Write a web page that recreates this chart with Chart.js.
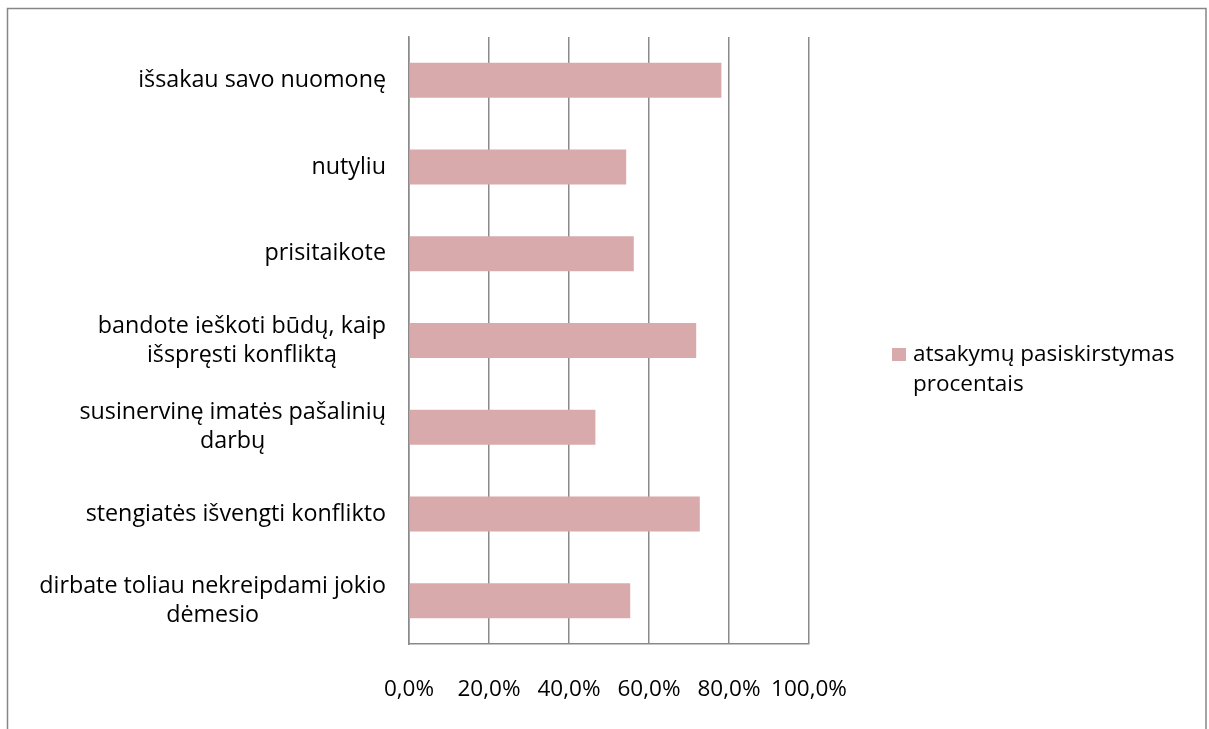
<!DOCTYPE html>
<html>
<head>
<meta charset="utf-8">
<script src="https://cdn.jsdelivr.net/npm/chart.js@4/dist/chart.umd.min.js"></script>
<style>
  html, body { margin: 0; padding: 0; background: #fff; }
  #wrap { width: 1209px; height: 729px; position: relative; }
</style>
</head>
<body>
<div id="wrap"><canvas id="c" width="1209" height="729"></canvas></div>
<script>
// ---- data ----
const categories = [
  ["išsakau savo nuomonę"],
  ["nutyliu"],
  ["prisitaikote"],
  ["bandote ieškoti būdų, kaip", "išspręsti konfliktą"],
  ["susinervinę imatės pašalinių", "darbų"],
  ["stengiatės išvengti konflikto"],
  ["dirbate toliau nekreipdami jokio", "dėmesio"]
];
const seriesName = "atsakymų pasiskirstymas procentais";
const seriesLegendLines = ["atsakymų pasiskirstymas", "procentais"];
const values = [78.1, 54.3, 56.2, 71.8, 46.6, 72.7, 55.3];
const tickValues = [0, 20, 40, 60, 80, 100];

const FONT = "'Open Sans', 'Liberation Sans', sans-serif";
const FSIZE = 22.5;
const YSIZE = 23.3;
const BAR_COLOR = '#D9AAAB';
const GRID_COLOR = '#8a8a8a';

const frame = {
  id: 'frame',
  beforeDraw(chart) {
    const ctx = chart.ctx;
    ctx.save();
    ctx.fillStyle = '#fff';
    ctx.fillRect(0, 0, chart.width, chart.height);
    ctx.strokeStyle = '#868686';
    ctx.lineWidth = 1.5;
    ctx.strokeRect(7.5, 8.5, 1198.5, 740);
    ctx.restore();
  }
};

const yLabels = {
  id: 'yLabels',
  afterDraw(chart) {
    const ctx = chart.ctx;
    const ys = chart.scales.y;
    const xs = chart.scales.x;
    const right = xs.left - 23;
    const lh = 29;
    ctx.save();
    ctx.font = YSIZE + 'px ' + FONT;
    ctx.fillStyle = '#000';
    ctx.textBaseline = 'middle';
    ctx.textAlign = 'center';
    categories.forEach((lines, i) => {
      const yc = ys.getPixelForValue(i);
      const w = Math.max(...lines.map(l => ctx.measureText(l).width));
      const cx = right - w / 2;
      const y0 = yc - (lines.length - 1) * lh / 2;
      lines.forEach((l, k) => ctx.fillText(l, cx, y0 + k * lh));
    });
    // legend
    ctx.font = FSIZE + 'px ' + FONT;
    const ds = chart.data.datasets[0];
    ctx.fillStyle = ds.backgroundColor;
    ctx.fillRect(892, 348, 14, 13);
    ctx.fillStyle = '#000';
    ctx.textAlign = 'left';
    seriesLegendLines.forEach((l, k) => ctx.fillText(l, 913, 355 + k * 30));
    ctx.restore();
  }
};

new Chart(document.getElementById('c'), {
  type: 'bar',
  data: {
    labels: categories,
    datasets: [{
      label: seriesName,
      data: values,
      backgroundColor: BAR_COLOR,
      borderWidth: 0,
      barPercentage: 0.404,
      categoryPercentage: 1.0
    }]
  },
  options: {
    indexAxis: 'y',
    responsive: false,
    animation: false,
    devicePixelRatio: 1,
    layout: { padding: { left: 0, right: 400, top: 37, bottom: 0 } },
    plugins: {
      legend: { display: false },
      tooltip: { enabled: false }
    },
    scales: {
      x: {
        min: 0, max: 100,
        afterBuildTicks(scale) { scale.ticks = tickValues.map(v => ({ value: v })); },
        afterFit(scale) { scale.height = 85; },
        grid: { color: GRID_COLOR, lineWidth: 1.5, drawTicks: false },
        border: { display: true, color: GRID_COLOR, width: 1.5 },
        ticks: {
          padding: 32,
          color: '#000',
          font: { family: FONT, size: FSIZE },
          maxRotation: 0,
          callback: (v) => Number(v).toFixed(1).replace('.', ',') + '%'
        }
      },
      y: {
        afterFit(scale) { scale.width = 409; },
        grid: { display: false, drawTicks: false },
        border: { display: true, color: GRID_COLOR, width: 1.5 },
        ticks: { display: false }
      }
    }
  },
  plugins: [frame, yLabels]
});
</script>
</body>
</html>
